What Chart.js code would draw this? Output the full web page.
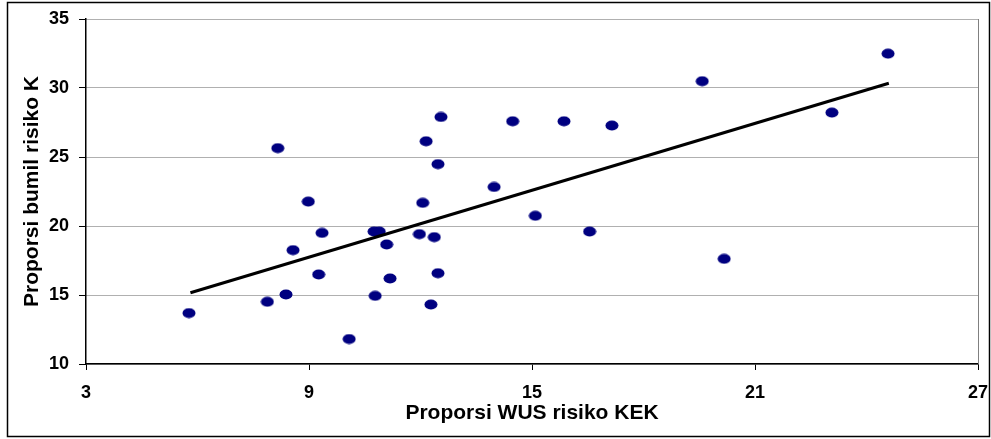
<!DOCTYPE html>
<html>
<head>
<meta charset="utf-8">
<script src="https://cdn.jsdelivr.net/npm/chart.js@4"></script>
<style>
  html, body { margin: 0; padding: 0; background: #fff; }
  #wrap { width: 991px; height: 439px; }
</style>
</head>
<body>
<div id="wrap"><canvas id="scatterChart" width="991" height="439"></canvas></div>
<script>
// values
const wusKek = [5.77, 7.88, 8.16, 8.38, 8.57, 8.98, 9.26, 9.35, 10.08, 10.75, 10.78, 10.89,
                11.09, 11.18, 11.97, 12.06, 12.15, 12.28, 12.37, 12.47, 12.47, 12.55, 13.98,
                14.48, 15.09, 15.86, 16.55, 17.15, 19.58, 20.17, 23.07, 24.58];
const bumilK = [13.69, 14.51, 25.64, 15.04, 18.25, 21.77, 16.49, 19.50, 11.81, 19.60, 14.94, 19.60,
                18.66, 16.20, 19.41, 21.68, 26.14, 14.31, 19.19, 24.48, 16.58, 27.90, 22.83,
                27.59, 20.74, 27.59, 19.60, 27.28, 30.49, 17.62, 28.22, 32.49];
// trend line end points
const trendX = [5.81, 24.6];
const trendY = [15.16, 30.34];

const xTicks = [3, 9, 15, 21, 27];
const yTicks = [10, 15, 20, 25, 30, 35];

const FONT = "'Liberation Sans', Arial, sans-serif";

// oval marker like the original
function makeMarker() {
    const c = document.createElement('canvas');
    c.width = 14;
    c.height = 11;
    const g = c.getContext('2d');
    g.fillStyle = '#000080';
    g.beginPath();
    g.ellipse(7, 5.5, 6.5, 5, 0, 0, Math.PI * 2);
    g.fill();
    return c;
}

const framePlugin = {
    id: 'frame',
    beforeDraw(chart) {
        const { ctx, width, height } = chart;
        ctx.save();
        ctx.fillStyle = '#fff';
        ctx.fillRect(0, 0, width, height);
        ctx.restore();
    },
    beforeDatasetsDraw(chart) {
        const { ctx, chartArea } = chart;
        ctx.save();
        ctx.strokeStyle = '#808080';
        ctx.lineWidth = 1;
        ctx.beginPath();
        ctx.moveTo(chartArea.right + 0.5, chartArea.top);
        ctx.lineTo(chartArea.right + 0.5, chartArea.bottom);
        ctx.stroke();
        ctx.restore();
    },
    afterDraw(chart) {
        const { ctx } = chart;
        ctx.save();
        ctx.strokeStyle = '#000';
        ctx.lineWidth = 1.5;
        ctx.strokeRect(7.5, 2.5, 982, 434);
        ctx.restore();
    }
};

function createScatterChart() {
    const ctx = document.getElementById('scatterChart');
    new Chart(ctx, {
        type: 'scatter',
        data: {
            datasets: [
                {
                    label: 'Trend',
                    data: trendX.map((x, i) => ({ x: x, y: trendY[i] })),
                    showLine: true,
                    borderColor: '#000',
                    borderWidth: 3,
                    pointRadius: 0,
                    order: 0
                },
                {
                    label: 'Data',
                    data: wusKek.map((x, i) => ({ x: x, y: bumilK[i] })),
                    pointStyle: makeMarker(),
                    backgroundColor: '#000080',
                    order: 1
                }
            ]
        },
        options: {
            responsive: false,
            animation: false,
            layout: { padding: { left: 8, right: 13, top: 19, bottom: 3 } },
            plugins: {
                legend: { display: false },
                tooltip: { enabled: false }
            },
            scales: {
                x: {
                    type: 'linear',
                    min: 3,
                    max: 27,
                    afterBuildTicks: scale => { scale.ticks = xTicks.map(v => ({ value: v })); },
                    afterFit: scale => {
                        scale.height = 72;
                        scale.paddingLeft = 0;
                        scale.paddingRight = 0;
                    },
                    grid: {
                        drawOnChartArea: false,
                        tickLength: 6,
                        tickColor: '#000',
                        tickWidth: 1
                    },
                    border: { color: '#000', width: 1.5 },
                    ticks: {
                        color: '#000',
                        padding: 12,
                        maxRotation: 0,
                        font: { family: FONT, size: 18, weight: 'bold' }
                    },
                    title: {
                        display: true,
                        text: 'Proporsi WUS risiko KEK',
                        color: '#000',
                        padding: { top: 0, bottom: 10 },
                        font: { family: FONT, size: 21, weight: 'bold' }
                    }
                },
                y: {
                    type: 'linear',
                    min: 10,
                    max: 35,
                    afterBuildTicks: scale => { scale.ticks = yTicks.map(v => ({ value: v })); },
                    afterFit: scale => {
                        scale.width = 78;
                        scale.paddingTop = 0;
                        scale.paddingBottom = 0;
                    },
                    grid: {
                        color: '#606060',
                        lineWidth: 1,
                        tickLength: 7,
                        tickColor: '#000',
                        tickWidth: 1
                    },
                    border: { color: '#000', width: 1.5, dash: [1, 1] },
                    ticks: {
                        color: '#000',
                        padding: 10,
                        font: { family: FONT, size: 18, weight: 'bold' }
                    },
                    title: {
                        display: true,
                        text: 'Proporsi bumil risiko K',
                        color: '#000',
                        padding: { top: 12, bottom: 0 },
                        font: { family: FONT, size: 21, weight: 'bold' }
                    }
                }
            }
        },
        plugins: [framePlugin]
    });
}

document.addEventListener('DOMContentLoaded', createScatterChart);
</script>
</body>
</html>
